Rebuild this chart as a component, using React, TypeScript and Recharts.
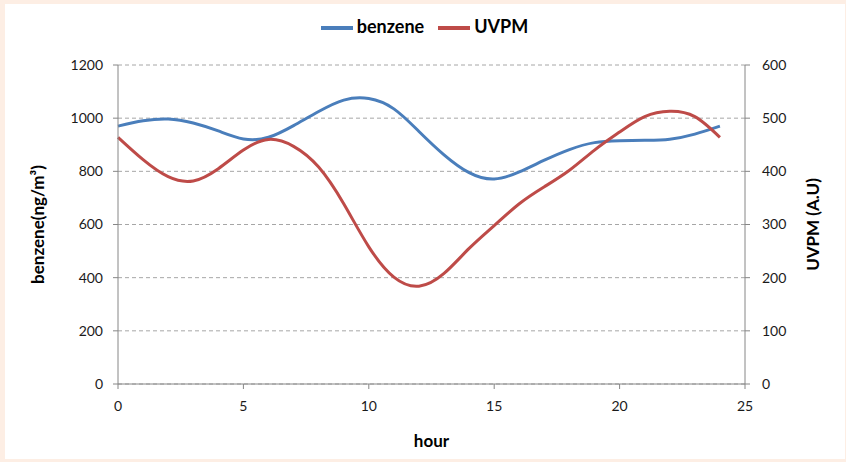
import React from "react";
import {
  CartesianGrid,
  Label,
  Legend,
  Line,
  LineChart,
  XAxis,
  YAxis,
} from "recharts";

// hourly readings taken off the smoothed curves
const hours = [
  0, 1, 2, 3, 4, 5, 6, 7, 8, 9, 10, 11, 12, 13, 14, 15, 16, 17, 18, 19, 20, 21,
  22, 23, 24,
];
const benzene = [
  970, 990, 997, 982, 952, 922, 928, 972, 1025, 1068, 1074, 1035, 950, 862, 795,
  771, 798, 842, 882, 908, 915, 917, 921, 940, 970,
];
const uvpm = [
  464, 422, 390, 382, 405, 440, 460, 447, 408, 339, 258, 201, 184, 208, 255,
  298, 339, 371, 402, 440, 474, 503, 513, 503, 464,
];

const xTicks = [0, 5, 10, 15, 20, 25];
const leftTicks = [0, 200, 400, 600, 800, 1000, 1200];
const rightTicks = [0, 100, 200, 300, 400, 500, 600];

const data = hours.map((h, i) => ({ hour: h, benzene: benzene[i], uvpm: uvpm[i] }));

const FONT = "Lato, 'Open Sans', sans-serif";
const AXIS = "#868686";
const GRID = "#a6a6a6";
const BLUE = "#4a7ebb";
const RED = "#be4b48";
const tick = { fontSize: 14, fill: "#1a1a1a", fontFamily: FONT };
const titleStyle = { fontSize: 17, fontWeight: 700, fill: "#000", fontFamily: FONT };

export default function App() {
  return (
    <div
      style={{
        position: "absolute",
        left: 0,
        top: 0,
        width: 846,
        height: 462,
        background: "#fdeee4",
      }}
    >
      <div
        style={{
          position: "absolute",
          left: 5,
          top: 4,
          width: 840,
          height: 455,
          background: "#fff",
          fontFamily: FONT,
        }}
      >
        <LineChart
          width={840}
          height={455}
          data={data}
          margin={{ top: 29, right: 10, bottom: 10, left: 13 }}
        >
          <CartesianGrid
            yAxisId="left"
            vertical={false}
            stroke={GRID}
            strokeDasharray="4 3"
          />
          <XAxis
            dataKey="hour"
            type="number"
            domain={[0, 25]}
            ticks={xTicks}
            height={65}
            stroke={AXIS}
            tick={tick}
            tickSize={5}
            tickMargin={12}
          >
            <Label value="hour" position="insideBottom" offset={2} style={titleStyle} />
          </XAxis>
          <YAxis
            yAxisId="left"
            domain={[0, 1200]}
            ticks={leftTicks}
            width={100}
            stroke={AXIS}
            tick={tick}
            tickSize={5}
            tickMargin={10}
          >
            <Label
              value="benzene(ng/m³)"
              angle={-90}
              position="insideLeft"
              offset={20}
              style={{ ...titleStyle, textAnchor: "middle" }}
            />
          </YAxis>
          <YAxis
            yAxisId="right"
            orientation="right"
            domain={[0, 600]}
            ticks={rightTicks}
            width={90}
            stroke={AXIS}
            tick={{ ...tick, textAnchor: "start" }}
            tickSize={5}
            tickMargin={12}
          >
            <Label
              value="UVPM (A.U)"
              angle={-90}
              position="insideRight"
              offset={22}
              style={{ ...titleStyle, textAnchor: "middle" }}
            />
          </YAxis>
          <Legend
            verticalAlign="top"
            iconType="plainline"
            iconSize={32}
            itemSorter="dataKey"
            wrapperStyle={{ top: 8, left: 18, fontSize: 18, fontWeight: 700 }}
            formatter={(v) => (
              <span style={{ color: "#000", marginRight: 4 }}>{v}</span>
            )}
          />
          <Line
            yAxisId="left"
            type="natural"
            dataKey="benzene"
            name="benzene"
            stroke={BLUE}
            strokeWidth={3}
            dot={false}
            isAnimationActive={false}
          />
          <Line
            yAxisId="right"
            type="natural"
            dataKey="uvpm"
            name="UVPM"
            stroke={RED}
            strokeWidth={3}
            dot={false}
            isAnimationActive={false}
          />
        </LineChart>
      </div>
    </div>
  );
}
